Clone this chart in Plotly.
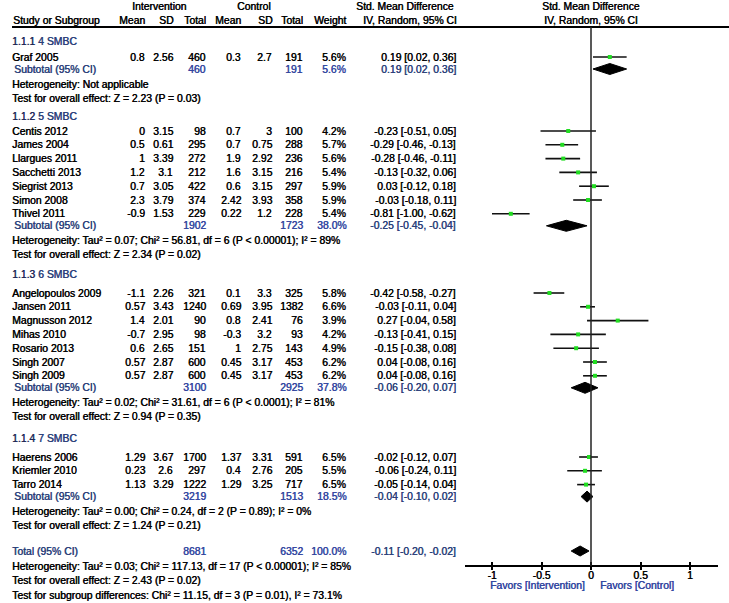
import plotly.graph_objects as go

W, H = 729, 603

# ---------------- data ----------------
group_labels = ["4 SMBC", "5 SMBC", "6 SMBC", "7 SMBC"]
group_codes = ["1.1.1", "1.1.2", "1.1.3", "1.1.4"]

studies = ["Graf 2005",
           "Centis 2012", "James 2004", "Llargues 2011", "Sacchetti 2013", "Siegrist 2013", "Simon 2008", "Thivel 2011",
           "Angelopoulos 2009", "Jansen 2011", "Magnusson 2012", "Mihas 2010", "Rosario 2013", "Singh 2007", "Singh 2009",
           "Haerens 2006", "Kriemler 2010", "Tarro 2014"]
study_group = [0, 1, 1, 1, 1, 1, 1, 1, 2, 2, 2, 2, 2, 2, 2, 3, 3, 3]
int_mean = [0.8, 0, 0.5, 1, 1.2, 0.7, 2.3, -0.9, -1.1, 0.57, 1.4, -0.7, 0.6, 0.57, 0.57, 1.29, 0.23, 1.13]
int_sd = [2.56, 3.15, 0.61, 3.39, 3.1, 3.05, 3.79, 1.53, 2.26, 3.43, 2.01, 2.95, 2.65, 2.87, 2.87, 3.67, 2.6, 3.29]
int_n = [460, 98, 295, 272, 212, 422, 374, 229, 321, 1240, 90, 98, 151, 600, 600, 1700, 297, 1222]
ctl_mean = [0.3, 0.7, 0.7, 1.9, 1.6, 0.6, 2.42, 0.22, 0.1, 0.69, 0.8, -0.3, 1, 0.45, 0.45, 1.37, 0.4, 1.29]
ctl_sd = [2.7, 3, 0.75, 2.92, 3.15, 3.15, 3.93, 1.2, 3.3, 3.95, 2.41, 3.2, 2.75, 3.17, 3.17, 3.31, 2.76, 3.25]
ctl_n = [191, 100, 288, 236, 216, 297, 358, 228, 325, 1382, 76, 93, 143, 453, 453, 591, 205, 717]
weight = [5.6, 4.2, 5.7, 5.6, 5.4, 5.9, 5.9, 5.4, 5.8, 6.6, 3.9, 4.2, 4.9, 6.2, 6.2, 6.5, 5.5, 6.5]
smd = [0.19, -0.23, -0.29, -0.28, -0.13, 0.03, -0.03, -0.81, -0.42, -0.03, 0.27, -0.13, -0.15, 0.04, 0.04, -0.02, -0.06, -0.05]
ci_lo = [0.02, -0.51, -0.46, -0.46, -0.32, -0.12, -0.18, -1.00, -0.58, -0.11, -0.04, -0.41, -0.38, -0.08, -0.08, -0.12, -0.24, -0.14]
ci_hi = [0.36, 0.05, -0.13, -0.11, 0.06, 0.18, 0.11, -0.62, -0.27, 0.04, 0.58, 0.15, 0.08, 0.16, 0.16, 0.07, 0.11, 0.04]

sub_int_n = [460, 1902, 3100, 3219]
sub_ctl_n = [191, 1723, 2925, 1513]
sub_weight = [5.6, 38.0, 37.8, 18.5]
sub_smd = [0.19, -0.25, -0.06, -0.04]
sub_lo = [0.02, -0.45, -0.20, -0.10]
sub_hi = [0.36, -0.04, 0.07, 0.02]
sub_het = ["Heterogeneity: Not applicable",
           "Heterogeneity: Tau² = 0.07; Chi² = 56.81, df = 6 (P < 0.00001); I² = 89%",
           "Heterogeneity: Tau² = 0.02; Chi² = 31.61, df = 6 (P < 0.0001); I² = 81%",
           "Heterogeneity: Tau² = 0.00; Chi² = 0.24, df = 2 (P = 0.89); I² = 0%"]
sub_test = ["Test for overall effect: Z = 2.23 (P = 0.03)",
            "Test for overall effect: Z = 2.34 (P = 0.02)",
            "Test for overall effect: Z = 0.94 (P = 0.35)",
            "Test for overall effect: Z = 1.24 (P = 0.21)"]

total_int_n = 8681
total_ctl_n = 6352
total_weight = 100.0
total_smd = -0.11
total_lo = -0.20
total_hi = -0.02
total_het = "Heterogeneity: Tau² = 0.03; Chi² = 117.13, df = 17 (P < 0.00001); I² = 85%"
total_test = "Test for overall effect: Z = 2.43 (P = 0.02)"
subgroup_test = "Test for subgroup differences: Chi² = 11.15, df = 3 (P = 0.01), I² = 73.1%"

tick_vals = [-1, -0.5, 0, 0.5, 1]
tick_text = ["-1", "-0.5", "0", "0.5", "1"]

# ---------------- layout of rows (pixel rows) ----------------
HDR_Y = [41, 116, 274, 438]
FIRST_OFF = [16, 15, 19, 19]
STEP = 13.8
TOTAL_Y = 551

FONT = "Liberation Sans, Arial, sans-serif"
BLACK = "#000000"
NAVY = "#2B3F7A"
BLUE = "#3246A0"
FS = 10.4

# column right edges (px)
C_IM, C_ISD, C_IN, C_CM, C_CSD, C_CN, C_W, C_SMD = 146, 174, 207, 242, 273, 304, 347, 457
X_NAME = 11

ann = []


def txt(x, y, s, anchor="right", color=BLACK, size=FS):
    ann.append(dict(x=x / W, xref="paper", y=y, yref="y", text=s, showarrow=False,
                    xanchor=anchor, yanchor="middle", borderpad=0,
                    font=dict(family=FONT, size=size, color=color,
                              shadow=f"0.45px 0 0 {color}")))


def fmt(v):
    return f"{v:g}"


def ci(e, lo, hi):
    return f"{e:.2f} [{lo:.2f}, {hi:.2f}]"


# headers
txt(159, 6, "Intervention", "center")
txt(254, 6, "Control", "center")
txt(405, 6, "Std. Mean Difference", "center")
txt(591, 6, "Std. Mean Difference", "center")
txt(12, 20, "Study or Subgroup", "left")
for x, s in [(C_IM, "Mean"), (C_ISD, "SD"), (C_IN, "Total"), (C_CM, "Mean"), (C_CSD, "SD"), (C_CN, "Total"), (C_W, "Weight")]:
    txt(x, 20, s)
txt(410, 20, "IV, Random, 95% CI", "center")
txt(591, 20, "IV, Random, 95% CI", "center")

study_y = []
sub_y = []
for g in range(len(group_labels)):
    hy = HDR_Y[g]
    txt(X_NAME, hy, f"<span style='color:#1E2550'>{group_codes[g]}</span> {group_labels[g]}", "left", color=NAVY)
    idx = [i for i, sg in enumerate(study_group) if sg == g]
    y = hy + FIRST_OFF[g]
    for k, i in enumerate(idx):
        yy = y + k * STEP
        study_y.append(yy)
        txt(X_NAME, yy, studies[i], "left")
        txt(C_IM, yy, fmt(int_mean[i]))
        txt(C_ISD, yy, fmt(int_sd[i]))
        txt(C_IN, yy, str(int_n[i]))
        txt(C_CM, yy, fmt(ctl_mean[i]))
        txt(C_CSD, yy, fmt(ctl_sd[i]))
        txt(C_CN, yy, str(ctl_n[i]))
        txt(C_W, yy, f"{weight[i]:.1f}%")
        txt(C_SMD, yy, ci(smd[i], ci_lo[i], ci_hi[i]))
    last = y + (len(idx) - 1) * STEP
    sy = last + 12
    sub_y.append(sy)
    txt(X_NAME + 2, sy, "Subtotal (95% CI)", "left", color=NAVY)
    txt(C_IN, sy, str(sub_int_n[g]), color=BLUE)
    txt(C_CN, sy, str(sub_ctl_n[g]), color=BLUE)
    txt(C_W, sy, f"{sub_weight[g]:.1f}%", color=BLUE)
    txt(C_SMD, sy, ci(sub_smd[g], sub_lo[g], sub_hi[g]), color=NAVY)
    txt(X_NAME, sy + 15, sub_het[g], "left")
    txt(X_NAME, sy + 29, sub_test[g], "left")

txt(X_NAME, TOTAL_Y, "Total (95% CI)", "left", color=NAVY)
txt(C_IN, TOTAL_Y, str(total_int_n), color=BLUE)
txt(C_CN, TOTAL_Y, str(total_ctl_n), color=BLUE)
txt(C_W, TOTAL_Y, f"{total_weight:.1f}%", color=BLUE)
txt(C_SMD, TOTAL_Y, ci(total_smd, total_lo, total_hi), color=NAVY)
txt(X_NAME, TOTAL_Y + 15, total_het, "left")
txt(X_NAME, TOTAL_Y + 29.5, total_test, "left")
txt(X_NAME, TOTAL_Y + 44, subgroup_test, "left")

txt(537, 585, "Favors [Intervention]", "center", color=BLUE)
txt(637, 585, "Favors [Control]", "center", color=BLUE)

fig = go.Figure()

# study CIs and points
fig.add_trace(go.Scatter(
    x=smd, y=study_y, mode="markers",
    marker=dict(symbol="square", size=4, color="#22DD22", line=dict(width=0)),
    error_x=dict(type="data", symmetric=False,
                 array=[h - e for e, h in zip(smd, ci_hi)],
                 arrayminus=[e - l for e, l in zip(smd, ci_lo)],
                 color="#111111", thickness=1.6, width=0),
    hoverinfo="skip", showlegend=False))


# diamonds
def diamond(e, lo, hi, yc, hh):
    fig.add_trace(go.Scatter(x=[lo, e, hi, e, lo], y=[yc, yc - hh, yc, yc + hh, yc],
                             mode="lines", fill="toself", fillcolor="black",
                             line=dict(color="black", width=1), hoverinfo="skip", showlegend=False))


for g in range(len(group_labels)):
    diamond(sub_smd[g], sub_lo[g], sub_hi[g], sub_y[g], 5.5)
diamond(total_smd, total_lo, total_hi, TOTAL_Y, 5)

AX_Y = 566
x0p, x1p = 465 / W, 718 / W
rng = [-1 - 27 / 99, 1 + 28 / 99]

shapes = [
    dict(type="line", xref="paper", yref="y", x0=12 / W, x1=1, y0=27, y1=27, line=dict(color="black", width=2)),
    dict(type="line", xref="x", yref="y", x0=0, x1=0, y0=27, y1=AX_Y, line=dict(color="#222222", width=1.5)),
]

fig.update_layout(
    width=W, height=H, margin=dict(l=0, r=0, t=0, b=0),
    paper_bgcolor="white", plot_bgcolor="rgba(0,0,0,0)",
    annotations=ann, shapes=shapes,
    xaxis=dict(domain=[x0p, x1p], range=rng, anchor="free", position=1 - AX_Y / H,
               showline=True, linecolor="black", linewidth=2, showgrid=False, zeroline=False,
               tickvals=tick_vals, ticktext=tick_text, ticks="inside", ticklen=3, tickwidth=2,
               tickcolor="black", ticklabelstandoff=0,
               tickfont=dict(family=FONT, size=FS, color="black", shadow="0.45px 0 0 #000")),
    xaxis2=dict(domain=[x0p, x1p], range=rng, overlaying="x", anchor="free", position=1 - AX_Y / H,
                showline=False, showgrid=False, zeroline=False, tickvals=tick_vals, showticklabels=False,
                ticks="outside", ticklen=3, tickwidth=2, tickcolor="black"),
    yaxis=dict(domain=[0, 1], range=[H, 0], visible=False, fixedrange=True),
)
fig.add_trace(go.Scatter(x=[None], y=[None], xaxis="x2", showlegend=False, hoverinfo="skip"))

fig.write_html("out.html", config={"displayModeBar": False},
               post_script="document.body.style.margin='0';document.body.style.overflow='hidden';")
